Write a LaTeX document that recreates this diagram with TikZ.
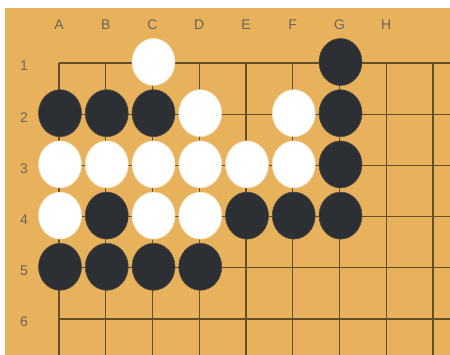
\documentclass[tikz,border=0pt]{standalone}
\usepackage{fontspec}
\setmainfont{Liberation Sans}
\usetikzlibrary{shapes.geometric}
\definecolor{board}{HTML}{E8B25C}
\definecolor{gridc}{HTML}{634F28}
\definecolor{blk}{HTML}{2C3035}
\definecolor{wht}{HTML}{FFFFFF}
\definecolor{lbl}{HTML}{66665E}
\newcommand{\stonex}[1]{59+46.75*#1}
\newcommand{\stoney}[1]{63+51.2*#1}
\begin{document}
\begin{tikzpicture}[x=1pt,y=-1pt,
  bstone/.style={ellipse,fill=blk,draw=blk!80!board,line width=0.6pt,minimum width=43pt,minimum height=47pt,inner sep=0pt},
  wstone/.style={ellipse,fill=wht,draw=board!40!white,line width=0.6pt,minimum width=43pt,minimum height=47pt,inner sep=0pt},
  lab/.style={text=lbl,font=\fontsize{14}{16}\selectfont,inner sep=0pt}]
\useasboundingbox (0,0) rectangle (450,355);
\fill[white] (0,0) rectangle (450,355);
\fill[board] (5,8) rectangle (450,355);
% grid
\foreach \i in {0,...,8} {
  \draw[gridc,line width=1.2pt] ({59+46.75*\i},63) -- ({59+46.75*\i},355);
}
\foreach \j in {0,...,5} {
  \draw[gridc,line width=1.2pt] (59,{63+51.2*\j}) -- (450,{63+51.2*\j});
}
% labels
\foreach \l [count=\i from 0] in {A,B,C,D,E,F,G,H} {
  \node[lab] (col\l) at ({59+46.75*\i},25) {\l};
}
\foreach \n [count=\j from 0] in {1,...,6} {
  \node[lab] (row\n) at (24,{66+51.2*\j}) {\n};
}
% stones
\foreach \c/\r/\t [count=\k] in {
  2/0/w, 6/0/b,
  0/1/b, 1/1/b, 2/1/b, 3/1/w, 5/1/w, 6/1/b,
  0/2/w, 1/2/w, 2/2/w, 3/2/w, 4/2/w, 5/2/w, 6/2/b,
  0/3/w, 1/3/b, 2/3/w, 3/3/w, 4/3/b, 5/3/b, 6/3/b,
  0/4/b, 1/4/b, 2/4/b, 3/4/b} {
  \node[\t stone] (s\k) at ({\stonex{\c}+1},{\stoney{\r}-1}) {};
}
\end{tikzpicture}
\end{document}
